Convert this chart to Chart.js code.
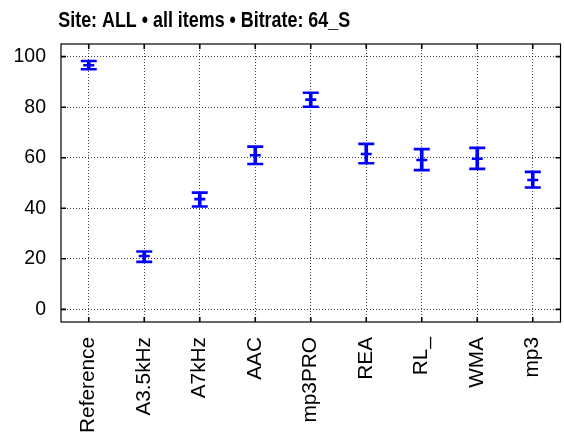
<!DOCTYPE html>
<html>
<head>
<meta charset="utf-8">
<script src="https://cdn.jsdelivr.net/npm/chart.js@4/dist/chart.umd.min.js"></script>
<style>
  html, body { margin: 0; padding: 0; background: #fff; }
  canvas { display: block; }
</style>
</head>
<body>
<canvas id="c" width="564" height="434"></canvas>
<script>
const titleText = 'Site: ALL \u2022 all items \u2022 Bitrate: 64_S';
const categories = ['Reference', 'A3.5kHz', 'A7kHz', 'AAC', 'mp3PRO', 'REA', 'RL_', 'WMA', 'mp3'];
const means = [96.6, 21.1, 43.6, 61.0, 83.0, 61.5, 59.1, 59.6, 51.2];
const lower = [95.0, 18.8, 40.7, 57.5, 80.2, 57.8, 55.1, 55.6, 48.2];
const upper = [98.3, 22.9, 46.2, 64.4, 85.7, 65.5, 63.4, 63.9, 54.4];
const yTicks = [0, 20, 40, 60, 80, 100];

const BLUE = '#0000ff';
const FONT = "'Liberation Sans', Arial, sans-serif";
const GRID = 'rgba(0,0,0,0.75)';

const boxPlugin = {
  id: 'boxTicks',
  afterDraw(chart) {
    const ctx = chart.ctx;
    const a = chart.chartArea;
    const xs = chart.scales.x, ys = chart.scales.y;
    ctx.save();
    ctx.strokeStyle = '#000';
    ctx.lineWidth = 1.2;
    ctx.strokeRect(a.left, a.top, a.right - a.left, a.bottom - a.top);
    ctx.lineWidth = 1.6;
    ctx.beginPath();
    for (let i = 0; i < categories.length; i++) {
      const px = xs.getPixelForTick(i);
      ctx.moveTo(px, a.bottom); ctx.lineTo(px, a.bottom - 5);
      ctx.moveTo(px, a.top); ctx.lineTo(px, a.top + 5);
    }
    yTicks.forEach(v => {
      const py = ys.getPixelForValue(v);
      ctx.moveTo(a.left, py); ctx.lineTo(a.left + 5, py);
      ctx.moveTo(a.right, py); ctx.lineTo(a.right - 5, py);
    });
    ctx.stroke();
    // title (condensed bold, as in the reference)
    ctx.fillStyle = '#000';
    ctx.font = "bold 22px 'Liberation Sans', Arial, sans-serif";
    ctx.textBaseline = 'alphabetic';
    ctx.textAlign = 'left';
    ctx.translate(a.left - 2.7, 27.3);
    ctx.scale(0.813, 1);
    ctx.fillText(titleText, 0, 0);
    ctx.restore();
  }
};

const pointDs = (data, r) => ({
  type: 'line',
  data: data,
  showLine: false,
  pointStyle: 'line',
  pointRadius: r,
  pointHoverRadius: r,
  pointBorderWidth: 2.6,
  pointBorderColor: BLUE,
  pointBackgroundColor: BLUE,
  borderColor: BLUE,
  order: 1
});

new Chart(document.getElementById('c'), {
  type: 'bar',
  data: {
    labels: categories,
    datasets: [
      {
        type: 'bar',
        data: categories.map((c, i) => [lower[i], upper[i]]),
        backgroundColor: BLUE,
        borderWidth: 0,
        barThickness: 3,
        order: 2
      },
      pointDs(upper, 8),
      pointDs(lower, 8),
      pointDs(means, 5.5)
    ]
  },
  options: {
    responsive: false,
    devicePixelRatio: 1,
    animation: false,
    layout: { autoPadding: false, padding: { left: 0, right: 3.5, top: 44, bottom: 0 } },
    plugins: {
      legend: { display: false },
      tooltip: { enabled: false },
      title: { display: false }
    },
    scales: {
      x: {
        offset: true,
        grid: { offset: false, drawTicks: false, color: GRID, lineWidth: 1 },
        border: { display: false, dash: [1, 2] },
        ticks: {
          autoSkip: false,
          minRotation: 90,
          maxRotation: 90,
          padding: 15,
          color: '#000',
          font: { family: FONT, size: 20.8 }
        },
        afterFit: s => { s.height = 112; s.paddingLeft = 0; s.paddingRight = 0; }
      },
      y: {
        min: -5,
        max: 105,
        afterBuildTicks: s => { s.ticks = yTicks.map(v => ({ value: v })); },
        grid: { drawTicks: false, color: GRID, lineWidth: 1 },
        border: { display: false, dash: [1, 2] },
        ticks: {
          padding: 15,
          color: '#000',
          font: { family: FONT, size: 19.5 }
        },
        afterFit: s => { s.width = 61; s.paddingTop = 0; s.paddingBottom = 0; }
      }
    }
  },
  plugins: [boxPlugin]
});
</script>
</body>
</html>
